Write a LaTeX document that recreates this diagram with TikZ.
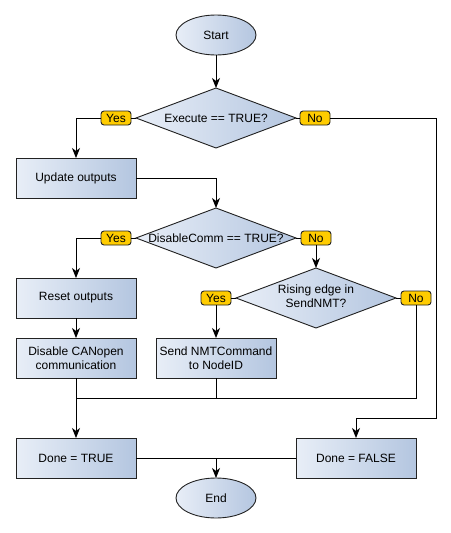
\documentclass[tikz,border=0pt]{standalone}
\usepackage{fontspec}
\setmainfont{Liberation Sans}
\usetikzlibrary{shapes.geometric,arrows.meta}
\definecolor{gradL}{HTML}{E8EEF7}
\definecolor{gradR}{HTML}{B4C6E0}
\definecolor{tagfill}{HTML}{FFCC00}
\definecolor{edge}{HTML}{222222}
\begin{document}
\begin{tikzpicture}[x=1pt,y=-1pt,
  font=\fontsize{12}{14}\selectfont,
  every node/.style={inner sep=0pt, outer sep=0pt},
  flow/.style={draw=edge, line width=0.9pt, left color=gradL, right color=gradR},
  procbox/.style={flow, rectangle, minimum width=120pt, minimum height=40pt, align=center},
  termbox/.style={flow, ellipse, minimum width=80pt, minimum height=40pt},
  decbox/.style={flow, diamond, minimum width=160pt, minimum height=60pt},
  tag/.style={draw=edge, line width=0.9pt, fill=tagfill, rounded corners=3pt, minimum width=30pt, minimum height=14pt},
  conn/.style={draw=black, line width=1pt},
  arr/.style={conn, -{Stealth[length=10pt,width=8pt,inset=3pt]}}
]
\useasboundingbox (0,0) rectangle (450,533);
\node[termbox] (start) at (216,35) {Start};
\node[decbox] (d1) at (216,118) {\makebox[0pt]{Execute == TRUE?}};
\node[tag] (y1) at (116,118) {Yes};
\node[tag] (n1) at (315,118) {No};
\node[procbox] (upd) at (76,178) {Update outputs};
\node[decbox] (d2) at (216,238) {\makebox[0pt]{DisableComm == TRUE?}};
\node[tag] (y2) at (116,238) {Yes};
\node[tag] (n2) at (316,238) {No};
\node[decbox] (d3) at (316,298) {\makebox[0pt]{\begin{tabular}{@{}c@{}}Rising edge in\\SendNMT?\end{tabular}}};
\node[tag] (y3) at (216,298) {Yes};
\node[tag] (n3) at (416,298) {No};
\node[procbox] (reset) at (76,298) {Reset outputs};
\node[procbox] (dis) at (76,358) {Disable CANopen\\communication};
\node[procbox] (send) at (216,358) {Send NMTCommand\\to NodeID};
\node[procbox] (dtrue) at (76,458) {Done = TRUE};
\node[procbox] (dfalse) at (356,458) {Done = FALSE};
\node[termbox] (end) at (216,498) {End};
\coordinate (j1) at (216,398);
\coordinate (j2) at (216,458);
\coordinate (j3) at (76,398);

\draw[arr] (start) -- (d1);
\draw[conn] (d1.west) -- (y1.east);
\draw[arr] (y1.west) -| (upd.north);
\draw[conn] (d1.east) -- (n1.west);
\draw[arr] (n1.east) -- (436,118) -- (436,418) -| (dfalse.north);
\draw[arr] (upd.east) -| (d2.north);
\draw[conn] (d2.west) -- (y2.east);
\draw[arr] (y2.west) -| (reset.north);
\draw[conn] (d2.east) -- (n2.west);
\draw[arr] (n2.south) -- (d3.north);
\draw[conn] (d3.west) -- (y3.east);
\draw[arr] (y3.south) -- (send.north);
\draw[conn] (d3.east) -- (n3.west);
\draw[conn] (n3.south) |- (j3);
\draw[arr] (reset) -- (dis);
\draw[arr] (dis) -- (dtrue);
\draw[conn] (send.south) -- (j1);
\draw[conn] (dtrue.east) -- (dfalse.west);
\draw[arr] (j2) -- (end.north);
\end{tikzpicture}
\end{document}
